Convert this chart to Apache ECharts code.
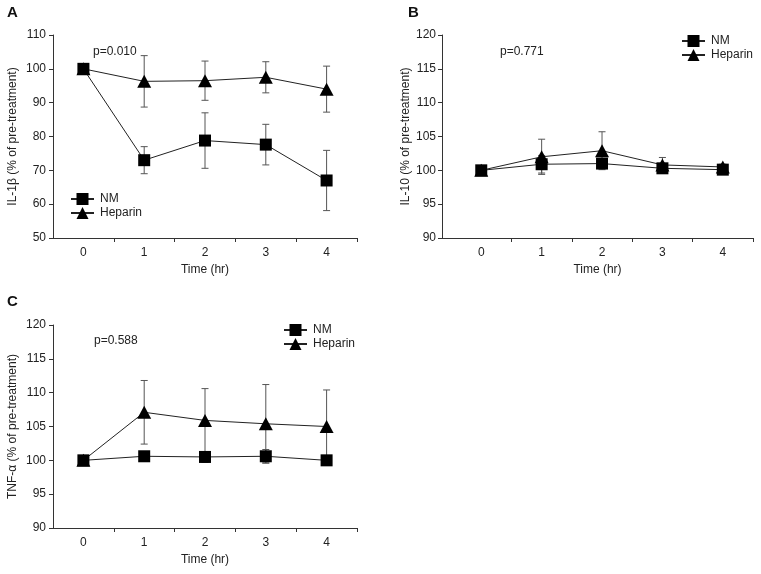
<!DOCTYPE html>
<html>
<head>
<meta charset="utf-8">
<script src="https://cdn.jsdelivr.net/npm/echarts@6/dist/echarts.min.js"></script>
<style>html,body{margin:0;padding:0;background:#fff}#c{width:761px;height:574px}</style>
</head>
<body>
<div id="c"></div>
<script>
// ---- data ----
var timeLabels = ['0', '1', '2', '3', '4'];
var timePoints = [0, 1, 2, 3, 4];
var tickBoundaries = [0.5, 1.5, 2.5, 3.5, 4.5];

var aNM = [100, 73, 78.8, 77.6, 67];
var aNMErr = [1, 4, 8.2, 6, 8.9];
var aHep = [100, 96.3, 96.5, 97.5, 94];
var aHepErr = [1, 7.6, 5.8, 4.6, 6.8];

var bNM = [100, 100.9, 101, 100.3, 100.1];
var bNMErr = [0.4, 1.3, 0.6, 0.3, 0.3];
var bHep = [100, 102, 102.9, 100.8, 100.5];
var bHepErr = [0.4, 2.6, 2.8, 1.1, 0.4];

var cNM = [100, 100.6, 100.5, 100.6, 100];
var cNMErr = [0.7, 0.3, 0.8, 1, 0.3];
var cHep = [100, 107.1, 105.9, 105.4, 105];
var cHepErr = [0.5, 4.7, 4.7, 5.8, 5.4];

var pValues = ['p=0.010', 'p=0.771', 'p=0.588'];
var panelLetters = ['A', 'B', 'C'];
var yTitles = ['IL-1\u03b2 (% of pre-treatment)', 'IL-10 (% of pre-treatment)', 'TNF-\u03b1 (% of pre-treatment)'];
var xTitle = 'Time (hr)';

// ---- build ----
var FONT = "'Liberation Sans', Arial, Helvetica, sans-serif";
var chart = echarts.init(document.getElementById('c'), null, {renderer: 'canvas'});

function pairs(vals) { return timePoints.map(function (t, i) { return [t, vals[i]]; }); }
function errData(vals, errs) { return timePoints.map(function (t, i) { return [t, vals[i] - errs[i], vals[i] + errs[i]]; }); }

function errSeries(idx, vals, errs) {
  return {
    type: 'custom', xAxisIndex: idx, yAxisIndex: idx, silent: true, z: 1,
    data: errData(vals, errs),
    renderItem: function (params, api) {
      var x = api.value(0);
      var lo = api.coord([x, api.value(1)]);
      var hi = api.coord([x, api.value(2)]);
      var w = 3.5;
      var st = {stroke: '#555', lineWidth: 1};
      return {type: 'group', children: [
        {type: 'line', shape: {x1: lo[0], y1: lo[1], x2: hi[0], y2: hi[1]}, style: st},
        {type: 'line', shape: {x1: lo[0] - w, y1: lo[1], x2: lo[0] + w, y2: lo[1]}, style: st},
        {type: 'line', shape: {x1: hi[0] - w, y1: hi[1], x2: hi[0] + w, y2: hi[1]}, style: st}
      ]};
    }
  };
}
function lineSeries(idx, name, vals, sym, size) {
  return {
    type: 'line', name: name, xAxisIndex: idx, yAxisIndex: idx, z: 3,
    data: pairs(vals), symbol: sym, symbolSize: size,
    itemStyle: {color: '#000'}, lineStyle: {color: '#222', width: 1},
    emphasis: {disabled: true}, animation: false
  };
}

var grids = [
  {left: 53, top: 35, width: 304, height: 203},
  {left: 442, top: 35, width: 311, height: 203},
  {left: 53, top: 325, width: 304, height: 203}
];
var xMins = [-0.5, -0.65, -0.5];
var yMins = [50, 90, 90], yMaxs = [110, 120, 120], yInts = [10, 5, 5];
var yNameGaps = [34, 28, 34];
var yLabelMargins = [7, 6, 7];

var axisLineStyle = {color: '#333', width: 1};
var xAxes = [], yAxes = [];
for (var i = 0; i < 3; i++) {
  xAxes.push({
    type: 'value', gridIndex: i, min: xMins[i], max: 4.5,
    name: xTitle, nameLocation: 'middle', nameGap: 26,
    nameTextStyle: {fontFamily: FONT, fontSize: 12, color: '#222'},
    axisLine: {show: true, onZero: false, lineStyle: axisLineStyle},
    axisTick: {show: true, length: 4, lineStyle: axisLineStyle, customValues: tickBoundaries},
    axisLabel: {fontFamily: FONT, fontSize: 12, color: '#222', margin: 9, customValues: timePoints,
      formatter: function (v) { return timeLabels[timePoints.indexOf(Math.round(v))]; }},
    splitLine: {show: false}
  });
  yAxes.push({
    type: 'value', gridIndex: i, min: yMins[i], max: yMaxs[i], interval: yInts[i],
    name: yTitles[i], nameLocation: 'middle', nameGap: yNameGaps[i], nameRotate: 90,
    nameTextStyle: {fontFamily: FONT, fontSize: 12, color: '#222'},
    axisLine: {show: true, onZero: false, lineStyle: axisLineStyle},
    axisTick: {show: true, length: 4, lineStyle: axisLineStyle},
    axisLabel: {fontFamily: FONT, fontSize: 12, color: '#222', margin: yLabelMargins[i]},
    splitLine: {show: false}
  });
}

var series = [
  errSeries(0, aNM, aNMErr), errSeries(0, aHep, aHepErr),
  lineSeries(0, 'NM', aNM, 'rect', 12), lineSeries(0, 'Heparin', aHep, 'triangle', [14, 13]),
  errSeries(1, bNM, bNMErr), errSeries(1, bHep, bHepErr),
  lineSeries(1, 'NM', bNM, 'rect', 12), lineSeries(1, 'Heparin', bHep, 'triangle', [14, 13]),
  errSeries(2, cNM, cNMErr), errSeries(2, cHep, cHepErr),
  lineSeries(2, 'NM', cNM, 'rect', 12), lineSeries(2, 'Heparin', cHep, 'triangle', [14, 13])
];

function legend(left, top) {
  return {
    left: left, top: top, orient: 'vertical', padding: 0, itemGap: 2,
    itemWidth: 23, itemHeight: 15, selectedMode: false,
    data: ['NM', 'Heparin'],
    textStyle: {fontFamily: FONT, fontSize: 12, color: '#222', padding: [0, 0, 0, 1]}
  };
}

var titles = [];
var pPos = [[93, 46], [500, 46], [94, 335]];
var letterPos = [[7, 5], [408, 5], [7, 294]];
for (var j = 0; j < 3; j++) {
  titles.push({text: pValues[j], left: pPos[j][0], top: pPos[j][1], padding: 0,
    textStyle: {fontFamily: FONT, fontSize: 12, fontWeight: 'normal', color: '#222'}});
  titles.push({text: panelLetters[j], left: letterPos[j][0], top: letterPos[j][1], padding: 0,
    textStyle: {fontFamily: FONT, fontSize: 15, fontWeight: 'bold', color: '#111'}});
}

chart.setOption({
  animation: false,
  backgroundColor: '#fff',
  title: titles,
  legend: [legend(70, 193), legend(681, 35), legend(283, 324)],
  grid: grids,
  xAxis: xAxes,
  yAxis: yAxes,
  series: series
});
</script>
</body>
</html>
